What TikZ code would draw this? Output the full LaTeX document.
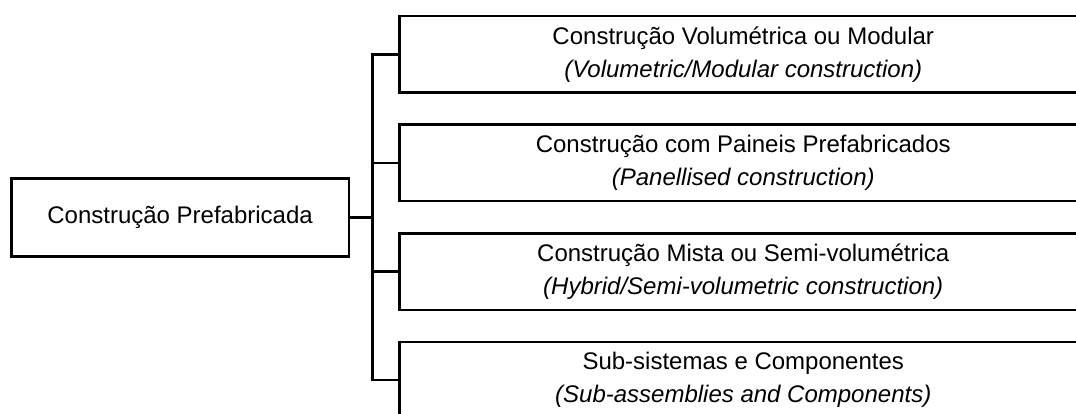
\documentclass[tikz,border=0pt]{standalone}
\usepackage{fontspec}
\setmainfont{Liberation Sans}
\begin{document}
\begin{tikzpicture}[x=1pt,y=-1pt,
  conn/.style={line width=2.5pt},
  mainbox/.style={draw,line width=2.5pt,minimum width=337.7pt,minimum height=77.7pt,inner sep=0pt,anchor=north west,font=\fontsize{24}{33}\selectfont},
  rbox/.style={draw,line width=2.5pt,minimum width=688pt,minimum height=76.5pt,inner sep=0pt,anchor=north west,align=center,font=\fontsize{24}{33}\selectfont}]
\useasboundingbox (0,0) rectangle (1076,414);
\clip (0,0) rectangle (1076,414);
\node[mainbox] (main) at (10,177.3) {Construção Prefabricada};
\node[rbox] (b1) at (398,15) {Construção Volumétrica ou Modular\\\textit{(Volumetric/Modular construction)}};
\node[rbox] (b2) at (398,123.5) {Construção com Paineis Prefabricados\\\textit{(Panellised construction)}};
\node[rbox] (b3) at (398,232) {Construção Mista ou Semi-volumétrica\\\textit{(Hybrid/Semi-volumetric construction)}};
\node[rbox] (b4) at (398,340.5) {Sub-sistemas e Componentes\\\textit{(Sub-assemblies and Components)}};
\coordinate (bus) at (372.5,0);
\draw[conn] (main.east) -- (main.east -| bus);
\draw[conn] (b1.west) -- (b1.west -| bus) -- (b4.west -| bus) -- (b4.west);
\draw[conn] (b2.west) -- (b2.west -| bus);
\draw[conn] (b3.west) -- (b3.west -| bus);
\end{tikzpicture}
\end{document}
